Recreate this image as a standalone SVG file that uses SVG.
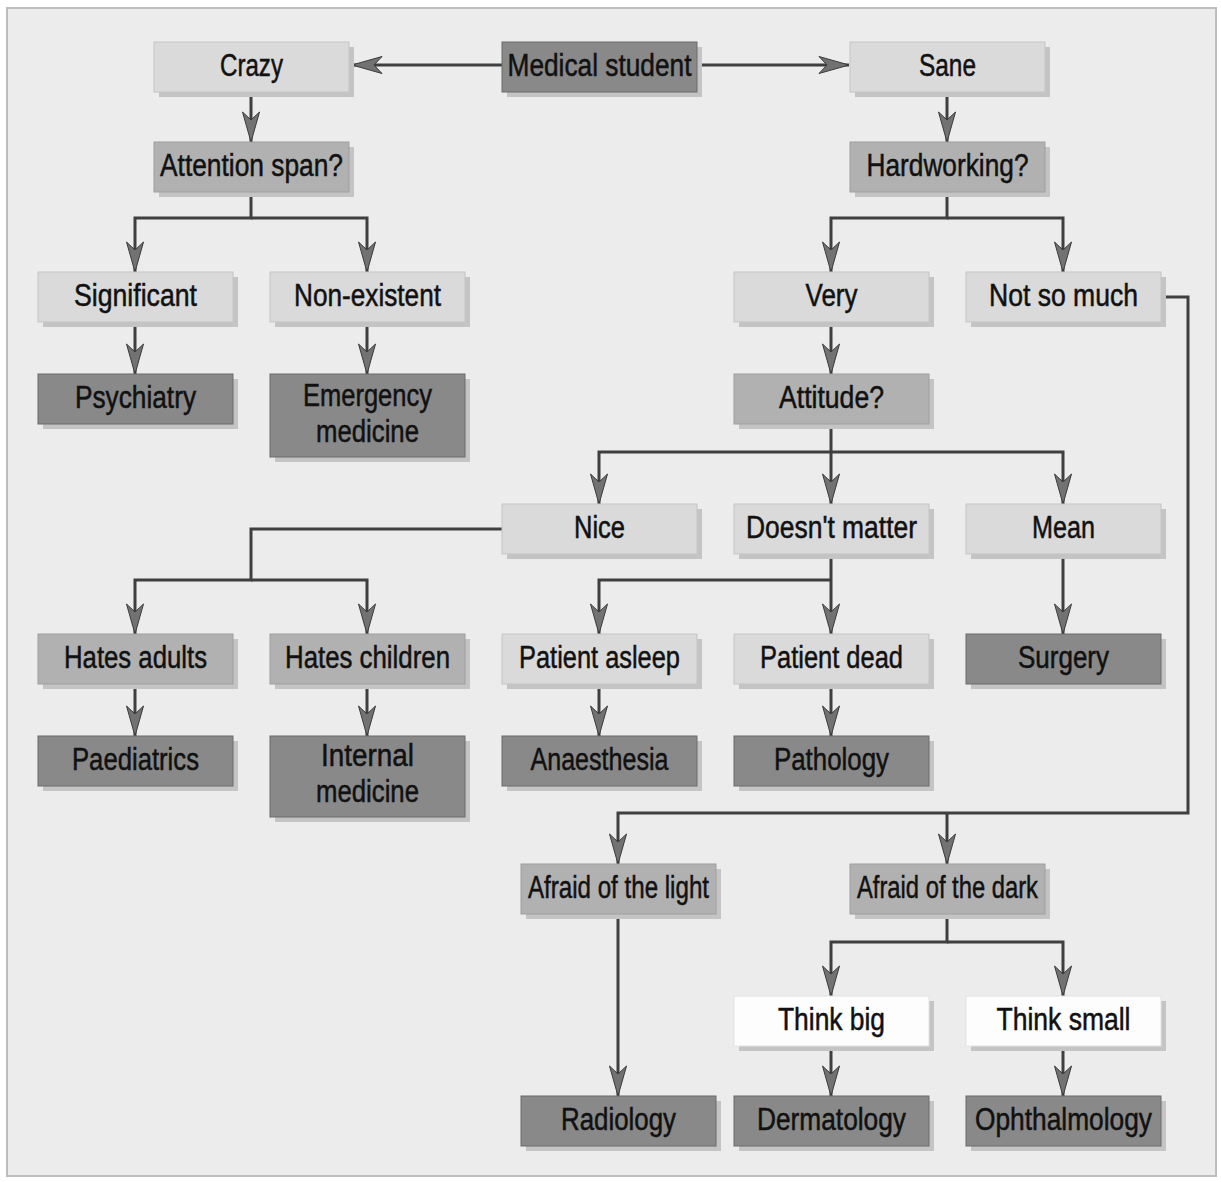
<svg xmlns="http://www.w3.org/2000/svg" width="1221" height="1182" viewBox="0 0 1221 1182">
<defs>
<style>
.sh{fill:#c4c4c4}
.light{fill:#dadada;stroke:#c4c4c4;stroke-width:1}
.mid{fill:#b1b1b1;stroke:#9e9e9e;stroke-width:1}
.dark{fill:#898989;stroke:#6a6a6a;stroke-width:1}
.white{fill:#fdfdfd;stroke:#e2e2e2;stroke-width:1}
text{font-family:"Liberation Sans Narrow","Liberation Sans",Arial,sans-serif;font-size:31px;fill:#111;stroke:#111;stroke-width:0.5;text-anchor:middle}
.c{fill:none;stroke:#3f3f3f;stroke-width:3;marker-end:url(#ah)}
</style>
<marker id="ah" markerUnits="userSpaceOnUse" markerWidth="32" markerHeight="20" viewBox="0 0 32 20" refX="31" refY="10" orient="auto">
<path d="M31,10 L1,1.5 L9,10 L1,18.5 Z" fill="#727272" stroke="#3a3a3a" stroke-width="1"/>
</marker>
</defs>
<rect x="0" y="0" width="1221" height="1182" fill="#ffffff"/>
<rect x="7" y="8" width="1209" height="1168" fill="#ececec" stroke="#bdbdbd" stroke-width="2"/>

<g id="connectors">
<path class="c" d="M502,65 H352"/>
<path class="c" d="M697,65 H849"/>
<path class="c" d="M251,92 V142"/>
<path class="c" d="M251,192 V218 H135 V272"/>
<path class="c" d="M251,218 H367 V272"/>
<path class="c" d="M135,322 V374"/>
<path class="c" d="M367,322 V374"/>
<path class="c" d="M947,92 V142"/>
<path class="c" d="M947,192 V218 H831 V272"/>
<path class="c" d="M947,218 H1063 V272"/>
<path class="c" d="M831,322 V374"/>
<path class="c" d="M831,424 V504"/>
<path class="c" d="M831,452 H599 V504"/>
<path class="c" d="M831,452 H1063 V504"/>
<path class="c" d="M502,529 H251 V580 H135 V634"/>
<path class="c" d="M251,580 H367 V634"/>
<path class="c" d="M831,554 V634"/>
<path class="c" d="M831,580 H599 V634"/>
<path class="c" d="M1063,554 V634"/>
<path class="c" d="M135,684 V736"/>
<path class="c" d="M367,684 V736"/>
<path class="c" d="M599,684 V736"/>
<path class="c" d="M831,684 V736"/>
<path class="c" d="M1161,297 H1188 V813 H618 V864"/>
<path class="c" d="M947,813 V864"/>
<path class="c" d="M618,914 V1096"/>
<path class="c" d="M947,914 V942 H831 V996"/>
<path class="c" d="M947,942 H1063 V996"/>
<path class="c" d="M831,1046 V1096"/>
<path class="c" d="M1063,1046 V1096"/>
</g>

<g id="n-medical-student"><rect class="sh" x="507" y="47" width="195" height="50"/><rect class="dark" x="502" y="42" width="195" height="50"/><text x="599.5" y="76" textLength="184" lengthAdjust="spacingAndGlyphs">Medical student</text></g>
<g id="n-crazy"><rect class="sh" x="159" y="47" width="195" height="50"/><rect class="light" x="154" y="42" width="195" height="50"/><text x="251.5" y="76" textLength="63" lengthAdjust="spacingAndGlyphs">Crazy</text></g>
<g id="n-sane"><rect class="sh" x="855" y="47" width="195" height="50"/><rect class="light" x="850" y="42" width="195" height="50"/><text x="947.5" y="76" textLength="57" lengthAdjust="spacingAndGlyphs">Sane</text></g>
<g id="n-attention"><rect class="sh" x="159" y="147" width="195" height="50"/><rect class="mid" x="154" y="142" width="195" height="50"/><text x="251.5" y="176" textLength="183" lengthAdjust="spacingAndGlyphs">Attention span?</text></g>
<g id="n-hardworking"><rect class="sh" x="855" y="147" width="195" height="50"/><rect class="mid" x="850" y="142" width="195" height="50"/><text x="947.5" y="176" textLength="162" lengthAdjust="spacingAndGlyphs">Hardworking?</text></g>
<g id="n-significant"><rect class="sh" x="43" y="277" width="195" height="50"/><rect class="light" x="38" y="272" width="195" height="50"/><text x="135.5" y="306" textLength="123" lengthAdjust="spacingAndGlyphs">Significant</text></g>
<g id="n-nonexistent"><rect class="sh" x="275" y="277" width="195" height="50"/><rect class="light" x="270" y="272" width="195" height="50"/><text x="367.5" y="306" textLength="147" lengthAdjust="spacingAndGlyphs">Non-existent</text></g>
<g id="n-very"><rect class="sh" x="739" y="277" width="195" height="50"/><rect class="light" x="734" y="272" width="195" height="50"/><text x="831.5" y="306" textLength="52" lengthAdjust="spacingAndGlyphs">Very</text></g>
<g id="n-notsomuch"><rect class="sh" x="971" y="277" width="195" height="50"/><rect class="light" x="966" y="272" width="195" height="50"/><text x="1063.5" y="306" textLength="149" lengthAdjust="spacingAndGlyphs">Not so much</text></g>
<g id="n-psychiatry"><rect class="sh" x="43" y="379" width="195" height="50"/><rect class="dark" x="38" y="374" width="195" height="50"/><text x="135.5" y="408" textLength="121" lengthAdjust="spacingAndGlyphs">Psychiatry</text></g>
<g id="n-emergency"><rect class="sh" x="275" y="379" width="195" height="83"/><rect class="dark" x="270" y="374" width="195" height="83"/><text x="367.5" y="406" textLength="129" lengthAdjust="spacingAndGlyphs">Emergency</text><text x="367.5" y="442" textLength="103" lengthAdjust="spacingAndGlyphs">medicine</text></g>
<g id="n-attitude"><rect class="sh" x="739" y="379" width="195" height="50"/><rect class="mid" x="734" y="374" width="195" height="50"/><text x="831.5" y="408" textLength="105" lengthAdjust="spacingAndGlyphs">Attitude?</text></g>
<g id="n-nice"><rect class="sh" x="507" y="509" width="195" height="50"/><rect class="light" x="502" y="504" width="195" height="50"/><text x="599.5" y="538" textLength="51" lengthAdjust="spacingAndGlyphs">Nice</text></g>
<g id="n-doesntmatter"><rect class="sh" x="739" y="509" width="195" height="50"/><rect class="light" x="734" y="504" width="195" height="50"/><text x="831.5" y="538" textLength="171" lengthAdjust="spacingAndGlyphs">Doesn't matter</text></g>
<g id="n-mean"><rect class="sh" x="971" y="509" width="195" height="50"/><rect class="light" x="966" y="504" width="195" height="50"/><text x="1063.5" y="538" textLength="63" lengthAdjust="spacingAndGlyphs">Mean</text></g>
<g id="n-hatesadults"><rect class="sh" x="43" y="639" width="195" height="50"/><rect class="mid" x="38" y="634" width="195" height="50"/><text x="135.5" y="668" textLength="143" lengthAdjust="spacingAndGlyphs">Hates adults</text></g>
<g id="n-hateschildren"><rect class="sh" x="275" y="639" width="195" height="50"/><rect class="mid" x="270" y="634" width="195" height="50"/><text x="367.5" y="668" textLength="165" lengthAdjust="spacingAndGlyphs">Hates children</text></g>
<g id="n-patientasleep"><rect class="sh" x="507" y="639" width="195" height="50"/><rect class="light" x="502" y="634" width="195" height="50"/><text x="599.5" y="668" textLength="161" lengthAdjust="spacingAndGlyphs">Patient asleep</text></g>
<g id="n-patientdead"><rect class="sh" x="739" y="639" width="195" height="50"/><rect class="light" x="734" y="634" width="195" height="50"/><text x="831.5" y="668" textLength="143" lengthAdjust="spacingAndGlyphs">Patient dead</text></g>
<g id="n-surgery"><rect class="sh" x="971" y="639" width="195" height="50"/><rect class="dark" x="966" y="634" width="195" height="50"/><text x="1063.5" y="668" textLength="91" lengthAdjust="spacingAndGlyphs">Surgery</text></g>
<g id="n-paediatrics"><rect class="sh" x="43" y="741" width="195" height="50"/><rect class="dark" x="38" y="736" width="195" height="50"/><text x="135.5" y="770" textLength="127" lengthAdjust="spacingAndGlyphs">Paediatrics</text></g>
<g id="n-internal"><rect class="sh" x="275" y="741" width="195" height="81"/><rect class="dark" x="270" y="736" width="195" height="81"/><text x="367.5" y="766" textLength="93" lengthAdjust="spacingAndGlyphs">Internal</text><text x="367.5" y="802" textLength="103" lengthAdjust="spacingAndGlyphs">medicine</text></g>
<g id="n-anaesthesia"><rect class="sh" x="507" y="741" width="195" height="50"/><rect class="dark" x="502" y="736" width="195" height="50"/><text x="599.5" y="770" textLength="138" lengthAdjust="spacingAndGlyphs">Anaesthesia</text></g>
<g id="n-pathology"><rect class="sh" x="739" y="741" width="195" height="50"/><rect class="dark" x="734" y="736" width="195" height="50"/><text x="831.5" y="770" textLength="115" lengthAdjust="spacingAndGlyphs">Pathology</text></g>
<g id="n-afraidlight"><rect class="sh" x="526" y="869" width="195" height="50"/><rect class="mid" x="521" y="864" width="195" height="50"/><text x="618.5" y="898" textLength="181" lengthAdjust="spacingAndGlyphs">Afraid of the light</text></g>
<g id="n-afraiddark"><rect class="sh" x="855" y="869" width="195" height="50"/><rect class="mid" x="850" y="864" width="195" height="50"/><text x="947.5" y="898" textLength="181" lengthAdjust="spacingAndGlyphs">Afraid of the dark</text></g>
<g id="n-thinkbig"><rect class="sh" x="739" y="1001" width="195" height="50"/><rect class="white" x="734" y="996" width="195" height="50"/><text x="831.5" y="1030" textLength="107" lengthAdjust="spacingAndGlyphs">Think big</text></g>
<g id="n-thinksmall"><rect class="sh" x="971" y="1001" width="195" height="50"/><rect class="white" x="966" y="996" width="195" height="50"/><text x="1063.5" y="1030" textLength="134" lengthAdjust="spacingAndGlyphs">Think small</text></g>
<g id="n-radiology"><rect class="sh" x="526" y="1101" width="195" height="50"/><rect class="dark" x="521" y="1096" width="195" height="50"/><text x="618.5" y="1130" textLength="115" lengthAdjust="spacingAndGlyphs">Radiology</text></g>
<g id="n-dermatology"><rect class="sh" x="739" y="1101" width="195" height="50"/><rect class="dark" x="734" y="1096" width="195" height="50"/><text x="831.5" y="1130" textLength="149" lengthAdjust="spacingAndGlyphs">Dermatology</text></g>
<g id="n-ophthalmology"><rect class="sh" x="971" y="1101" width="195" height="50"/><rect class="dark" x="966" y="1096" width="195" height="50"/><text x="1063.5" y="1130" textLength="177" lengthAdjust="spacingAndGlyphs">Ophthalmology</text></g>
</svg>
